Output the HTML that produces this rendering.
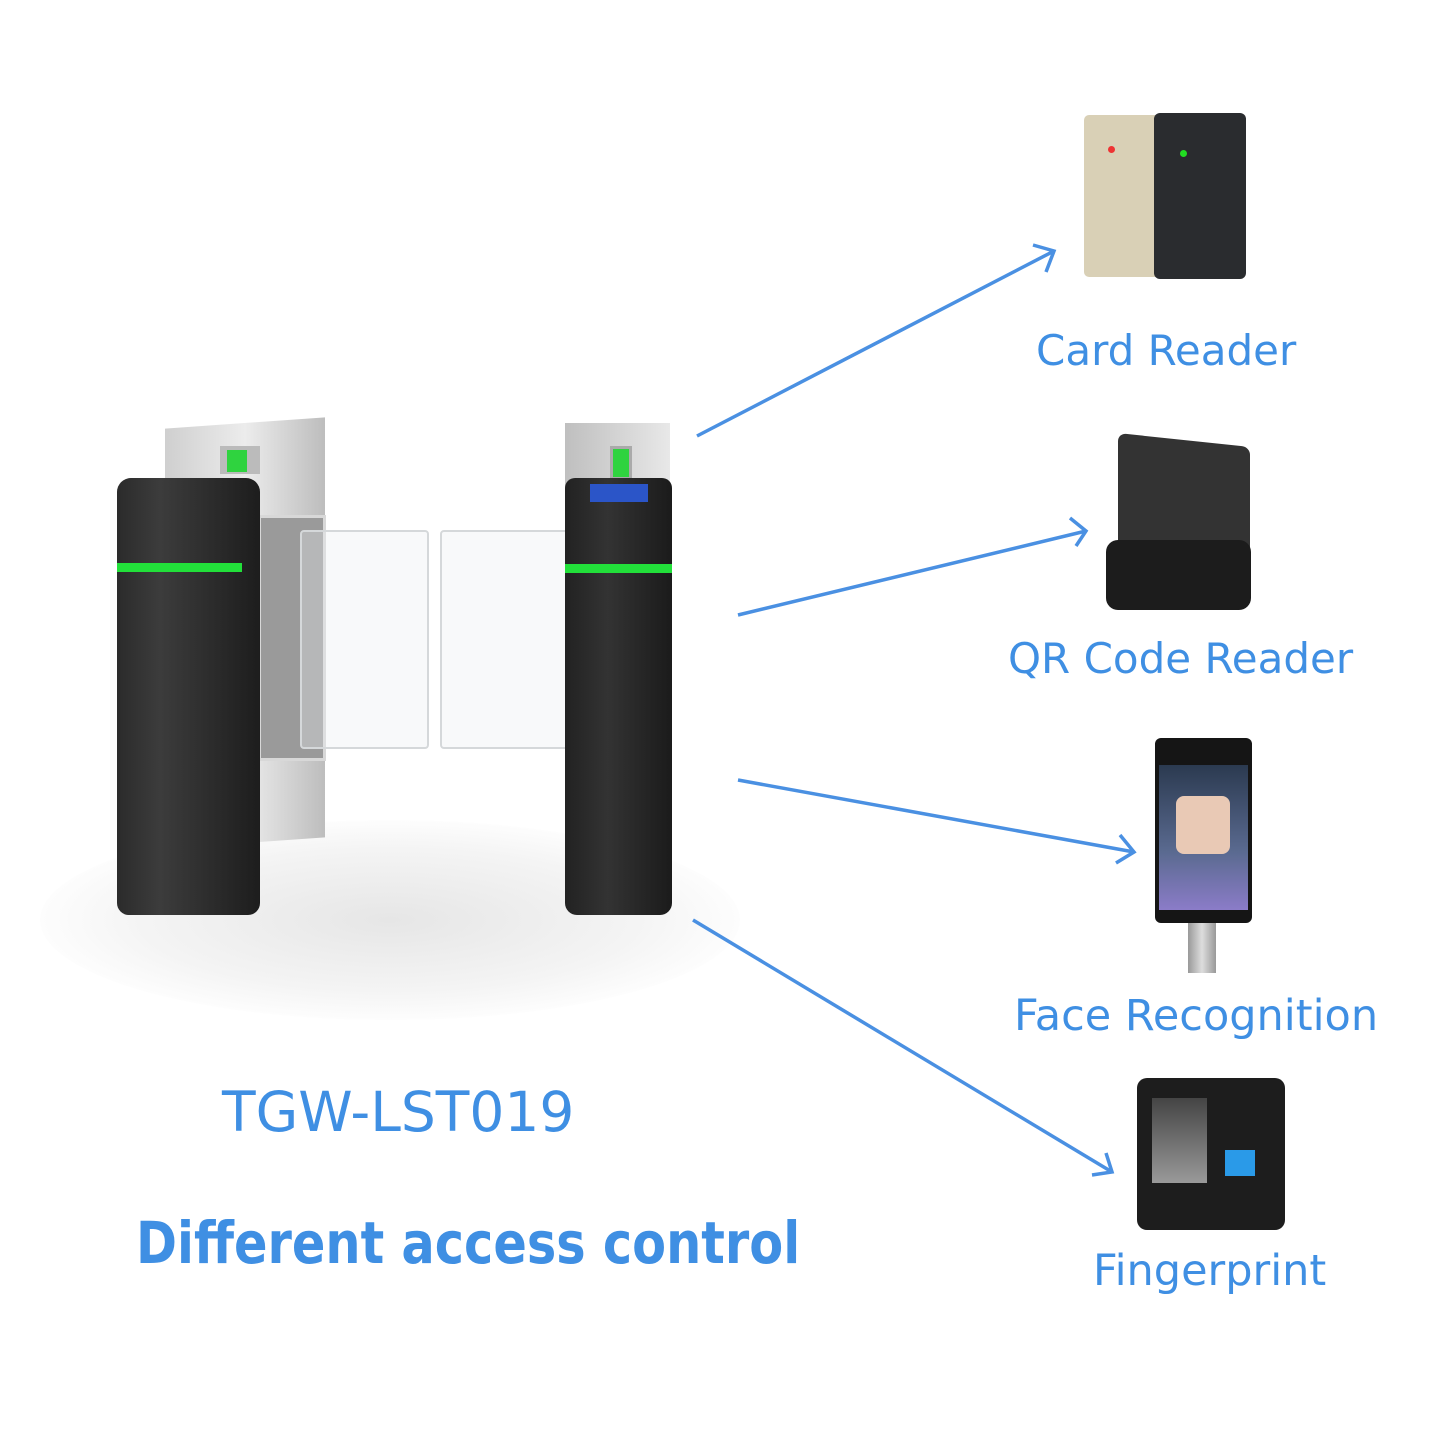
<!DOCTYPE html>
<html><head><meta charset="utf-8"><style>
body{margin:0;width:1440px;height:1440px;background:#fff;position:relative;overflow:hidden;font-family:"Liberation Sans","DejaVu Sans",sans-serif}
.a{position:absolute}
.lbl{position:absolute;color:#3f8fe3;font-family:"DejaVu Sans","Liberation Sans",sans-serif;white-space:nowrap;line-height:1}
</style></head><body>
<div class="a" style="left:40px;top:820px;width:700px;height:200px;border-radius:50%;background:radial-gradient(ellipse,#e6e6e6 0%,#f4f4f4 50%,#fff 75%)"></div>
<div class="a" style="left:165px;top:423px;width:160px;height:420px;background:linear-gradient(90deg,#cfcfcf,#ececec 50%,#bdbdbd);transform:skewY(-4deg)"></div>
<div class="a" style="left:258px;top:515px;width:62px;height:240px;background:#9a9a9a;border:3px solid #d8d8d8"></div>
<div class="a" style="left:220px;top:446px;width:40px;height:28px;background:#bbb"></div>
<div class="a" style="left:227px;top:450px;width:20px;height:22px;background:#2fd33f"></div>
<div class="a" style="left:300px;top:530px;width:125px;height:215px;background:rgba(235,238,240,.35);border:2px solid #d5d8da;border-radius:4px"></div>
<div class="a" style="left:440px;top:530px;width:125px;height:215px;background:rgba(235,238,240,.35);border:2px solid #d5d8da;border-radius:4px"></div>
<div class="a" style="left:117px;top:478px;width:143px;height:437px;background:linear-gradient(90deg,#2b2b2b,#3c3c3c 30%,#1d1d1d);border-radius:14px 14px 12px 12px"></div>
<div class="a" style="left:117px;top:563px;width:125px;height:9px;background:#22e03a"></div>
<div class="a" style="left:565px;top:423px;width:105px;height:70px;background:linear-gradient(90deg,#bfbfbf,#e8e8e8)"></div>
<div class="a" style="left:610px;top:446px;width:16px;height:28px;background:#2fd33f;border:3px solid #aaa"></div>
<div class="a" style="left:565px;top:478px;width:107px;height:437px;background:linear-gradient(90deg,#222,#333 40%,#1b1b1b);border-radius:10px 10px 12px 12px"></div>
<div class="a" style="left:590px;top:484px;width:58px;height:18px;background:#2b55c8"></div>
<div class="a" style="left:565px;top:564px;width:107px;height:9px;background:#22e03a"></div>

<svg class="a" style="left:0;top:0" width="1440" height="1440" fill="none" stroke="#4a90e2" stroke-width="3.5">
<line x1="697" y1="436" x2="1054" y2="251"/><polyline points="1033,245 1054,251 1046,272"/>
<line x1="738" y1="615" x2="1086" y2="531"/><polyline points="1070,518 1086,531 1076,546"/>
<line x1="738" y1="780" x2="1134" y2="852"/><polyline points="1120,835 1134,852 1116,863"/>
<line x1="693" y1="920" x2="1112" y2="1172"/><polyline points="1106,1153 1112,1172 1092,1175"/>
</svg>

<div class="a" style="left:1084px;top:115px;width:85px;height:162px;background:#d9d0b6;border-radius:5px"></div>
<div class="a" style="left:1108px;top:146px;width:7px;height:7px;background:#e33;border-radius:50%"></div>
<div class="a" style="left:1154px;top:113px;width:92px;height:166px;background:#2a2c2f;border-radius:6px"></div>
<div class="a" style="left:1180px;top:150px;width:7px;height:7px;background:#2d2;border-radius:50%"></div>
<div class="a" style="left:1118px;top:440px;width:132px;height:150px;background:#333;transform:skewY(6deg);border-radius:8px"></div>
<div class="a" style="left:1106px;top:540px;width:145px;height:70px;background:#1c1c1c;border-radius:12px"></div>
<div class="a" style="left:1188px;top:920px;width:28px;height:53px;background:linear-gradient(90deg,#999,#ddd,#999)"></div>
<div class="a" style="left:1155px;top:738px;width:97px;height:185px;background:#151515;border-radius:6px"></div>
<div class="a" style="left:1159px;top:765px;width:89px;height:145px;background:linear-gradient(#2b3a50,#5a6a90 60%,#8b7cc8)"></div>
<div class="a" style="left:1176px;top:796px;width:54px;height:58px;background:#e9c9b5;border-radius:8px"></div>
<div class="a" style="left:1137px;top:1078px;width:148px;height:152px;background:#1d1d1d;border-radius:10px"></div>
<div class="a" style="left:1152px;top:1098px;width:55px;height:85px;background:linear-gradient(#444,#999)"></div>
<div class="a" style="left:1225px;top:1150px;width:30px;height:26px;background:#2a9ae8"></div>

<div class="lbl" style="left:1036px;top:330px;font-size:42px">Card Reader</div>
<div class="lbl" style="left:1008px;top:638px;font-size:42px">QR Code Reader</div>
<div class="lbl" style="left:1014px;top:995px;font-size:43px">Face Recognition</div>
<div class="lbl" style="left:1093px;top:1250px;font-size:43px">Fingerprint</div>
<div class="lbl" style="left:222px;top:1085px;font-size:55px">TGW-LST019</div>
<div class="lbl" style="left:136px;top:1214px;font-size:58px;font-weight:bold;transform:scaleX(0.852);transform-origin:0 0">Different access control</div>
</body></html>
